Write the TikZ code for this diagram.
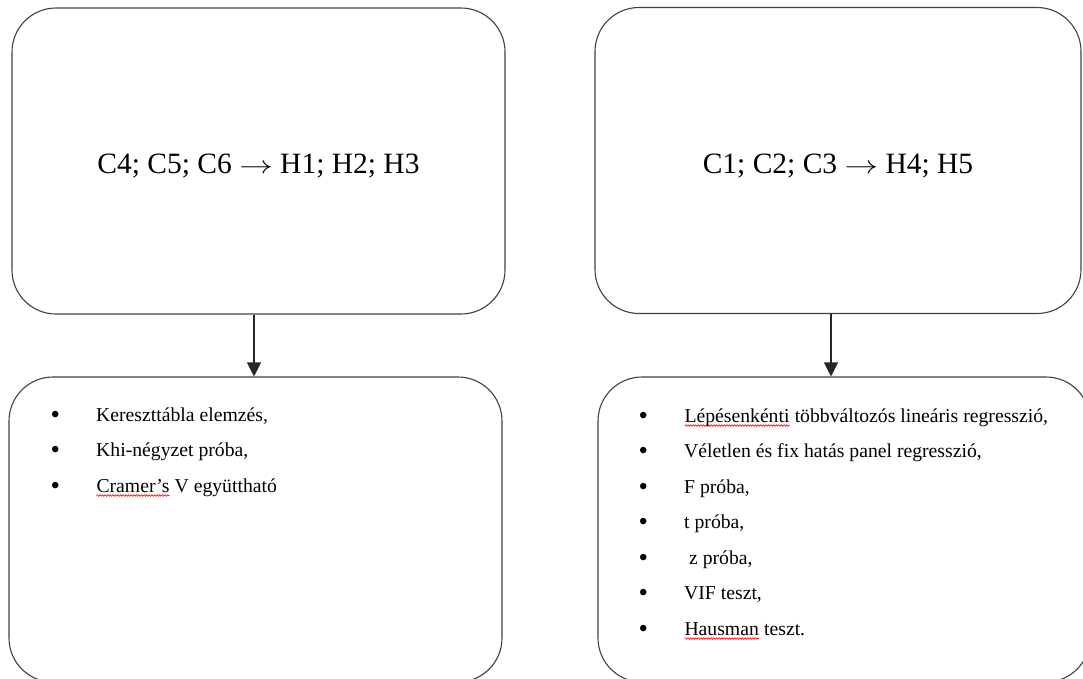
\documentclass[tikz,border=0pt]{standalone}
\usepackage{fontspec}
\setmainfont{Liberation Serif}
\usetikzlibrary{arrows.meta,positioning,decorations.pathmorphing}

% red wavy spell-check underline
\newcommand{\spellmark}[1]{\tikz[baseline=(sw.base)]{\node[inner sep=0pt, outer sep=0pt] (sw) {#1};
  \draw[red, line width=0.6pt, decorate, decoration={snake, amplitude=0.8pt, segment length=2.6pt}]
    ([yshift=-3.5pt]sw.base west) -- ([yshift=-3.5pt]sw.base east);}}
\newcommand{\bul}{\raisebox{-2.2pt}{\fontsize{27}{0}\selectfont\textbullet}}
\newcommand{\imp}{\scalebox{1.35}[1]{$\rightarrow$}}

\begin{document}
\begin{tikzpicture}[
    x=1pt, y=-1pt,
    box/.style={draw=black!75, line width=1.1pt, rounded corners=44pt, inner sep=0pt},
    title/.style={font=\fontsize{29.5}{35}\selectfont, yshift=-5pt},
    list/.style={anchor=base west, inner sep=0pt, font=\fontsize{19.7}{35.5}\selectfont},
    arrow/.style={-{Triangle[width=14pt,length=14pt]}, line width=1.1pt, draw=black!85}
]
\useasboundingbox (0,0) rectangle (1083,678);

\node[box, minimum width=493pt, minimum height=306pt] (hypL) at (258.5,161) {};
\node[box, minimum width=486pt, minimum height=306pt] (hypR) at (838,160.5) {};
\node[title] (hypLtext) at (hypL) {C4; C5; C6 \imp{} H1; H2; H3};
\node[title] (hypRtext) at (hypR) {C1; C2; C3 \imp{} H4; H5};

\node[box, minimum width=493pt, minimum height=305pt] (methL) at (255.5,529.5) {};
\node[box, minimum width=492pt, minimum height=305pt] (methR) at (844,529.5) {};

\node[list] (listL) at (50.5,421) {\begin{tabular}[t]{@{}p{45.5pt}@{}l@{}}
\bul & Kereszttábla elemzés,\\
\bul & Khi-négyzet próba,\\
\bul & \spellmark{Cramer’s} V együttható
\end{tabular}};

\node[list] (listR) at (638.5,422) {\begin{tabular}[t]{@{}p{45.5pt}@{}l@{}}
\bul & \spellmark{Lépésenkénti} többváltozós lineáris regresszió,\\
\bul & Véletlen és fix hatás panel regresszió,\\
\bul & F próba,\\
\bul & t próba,\\
\bul & \ z próba,\\
\bul & VIF teszt,\\
\bul & \spellmark{Hausman} teszt.
\end{tabular}};

\draw[arrow] ([xshift=-4.5pt]hypL.south) -- ([xshift=-4.5pt]hypL.south |- methL.north);
\draw[arrow] ([xshift=-7pt]hypR.south) -- ([xshift=-7pt]hypR.south |- methR.north);

\end{tikzpicture}
\end{document}
